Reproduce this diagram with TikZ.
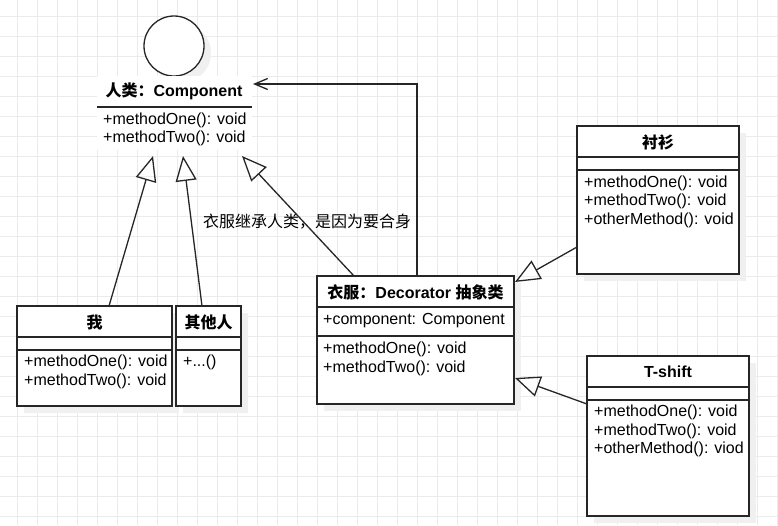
\documentclass[tikz,border=0pt]{standalone}
\usepackage{fontspec}
\setmainfont{Liberation Sans}
\newfontfamily\cjk{Noto Sans CJK SC}
\usetikzlibrary{arrows.meta}

\begin{document}
\begin{tikzpicture}[x=1pt,y=-1pt,
		font=\fontsize{16}{18.7}\selectfont,
		gridline/.style={draw=black!8, line width=1pt},
		shade box/.style={fill=black!6, draw=none},
		classbox/.style={fill=white, draw=black!85, line width=1.3pt},
		sep/.style={draw=black!85, line width=1.3pt},
		title/.style={font=\fontsize{16}{18.7}\selectfont\bfseries, inner sep=0pt},
		member/.style={anchor=west, align=left, inner sep=0pt},
		inherit/.style={draw=black!85, line width=1.3pt, -{Triangle[open, length=25pt, width=21pt]}},
		uses/.style={draw=black!85, line width=1.3pt, -{Straight Barb[length=13pt, width=11pt]}}]
		\useasboundingbox (0,0) rectangle (778,525);
		\fill[white] (0,0) rectangle (778,525);
		% grid
		\foreach \x in {17,37,...,777} \draw[gridline] (\x,0) -- (\x,525);
		\foreach \y in {16,36,...,516} \draw[gridline] (0,\y) -- (778,\y);

		% shadows
		\fill[shade box] (181,53) circle (30);
		\fill[shade box] (24,313) rectangle (179,413);
		\fill[shade box] (183,313) rectangle (248,413);
		\fill[shade box] (324,283) rectangle (521,411);
		\fill[shade box] (584,133) rectangle (746,281);
		\fill[shade box] (594,363) rectangle (756,523);

		% Component
		\filldraw[classbox] (174,46) circle (30);
		\fill[white] (97,76) rectangle (252,150);
		\draw[sep] (97,107) -- (252,107);
		\node[title] (comp) at (174,91) {{\cjk 人类：}Component};
		\node[member] (compOps) at (103,129.3) {+methodOne(): void\\+methodTwo(): void};

		% me
		\filldraw[classbox] (17,306) rectangle (172,406);
		\draw[sep] (17,337) -- (172,337);
		\draw[sep] (17,350) -- (172,350);
		\node[title] (me) at (94.5,322) {\cjk 我};
		\node[member] (meOps) at (24,371.7) {+methodOne(): void\\+methodTwo(): void};

		% others
		\filldraw[classbox] (176,306) rectangle (241,406);
		\draw[sep] (176,337) -- (241,337);
		\draw[sep] (176,350) -- (241,350);
		\node[title] (others) at (208.5,322) {\cjk 其他人};
		\node[member] (othersOps) at (183,362.7) {+...()};

		% Decorator
		\filldraw[classbox] (317,276) rectangle (514,404);
		\draw[sep] (317,307) -- (514,307);
		\draw[sep] (317,336) -- (514,336);
		\node[title] (deco) at (415.5,292) {{\cjk 衣服：}Decorator {\cjk 抽象类}};
		\node[member] (decoAttr) at (323,321) {+component: Component};
		\node[member] (decoOps) at (323,358.8) {+methodOne(): void\\+methodTwo(): void};

		% shirt
		\filldraw[classbox] (577,126) rectangle (739,274);
		\draw[sep] (577,157) -- (739,157);
		\draw[sep] (577,170) -- (739,170);
		\node[title] (shirt) at (658,142) {\cjk 衬衫};
		\node[member] (shirtOps) at (584,201.7) {+methodOne(): void\\+methodTwo(): void\\+otherMethod(): void};

		% T-shift
		\filldraw[classbox] (587,356) rectangle (749,516);
		\draw[sep] (587,387) -- (749,387);
		\draw[sep] (587,400) -- (749,400);
		\node[title] (tshift) at (668,372) {T-shift};
		\node[member] (tshiftOps) at (594,431) {+methodOne(): void\\+methodTwo(): void\\+otherMethod(): viod};

		% connector ends
		\coordinate (meTop) at (109,306);
		\coordinate (compA) at (153,156);
		\coordinate (othersTop) at (202,306);
		\coordinate (compB) at (183,156);
		\coordinate (decoTop) at (354,276);
		\coordinate (compC) at (242,156);
		\coordinate (decoTopR) at (417,276);
		\coordinate (compR) at (253,84);
		\coordinate (shirtL) at (577,247);
		\coordinate (decoR1) at (515,282);
		\coordinate (tshiftL) at (587,404);
		\coordinate (decoR2) at (515,378);

		\draw[inherit] (meTop) -- (compA);
		\draw[inherit] (othersTop) -- (compB);
		\draw[inherit] (decoTop) -- (compC);
		\draw[uses] (decoTopR) |- (compR);
		\draw[inherit] (shirtL) -- (decoR1);
		\draw[inherit] (tshiftL) -- (decoR2);

		\node (note) at (307,222) {\cjk 衣服继承人类，是因为要合身};
	\end{tikzpicture}
\end{document}
